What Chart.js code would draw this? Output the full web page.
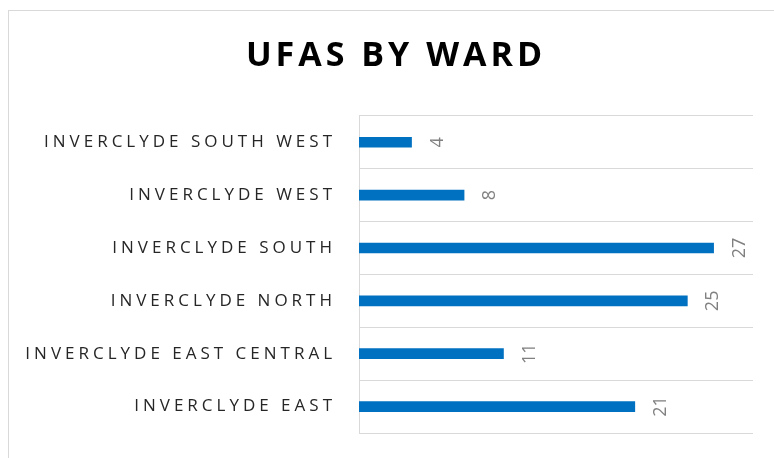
<!DOCTYPE html>
<html>
<head>
<meta charset="utf-8">
<script src="https://cdn.jsdelivr.net/npm/chart.js@4"></script>
<style>
  html, body { margin: 0; padding: 0; background: #fff; overflow: hidden; }
  .frame { position: absolute; left: 8px; top: 10px; width: 820px; height: 520px; border: 1.5px solid #d9d9d9; }
  .chart-container { position: absolute; left: 0; top: 0; width: 774px; height: 458px; }
</style>
</head>
<body>
<div class="frame"></div>
<div class="chart-container"><canvas id="wardChart"></canvas></div>
<script>
const wards = [
  'INVERCLYDE SOUTH WEST',
  'INVERCLYDE WEST',
  'INVERCLYDE SOUTH',
  'INVERCLYDE NORTH',
  'INVERCLYDE EAST CENTRAL',
  'INVERCLYDE EAST'
];
const ufasCounts = [4, 8, 27, 25, 11, 21];
const xMin = 0;
const xMax = 30;

// canvas letter spacing (Chart.js resets ctx state on resize, so set it before layout and draw)
const spacing = {
  id: 'spacing',
  beforeLayout(chart) { chart.ctx.letterSpacing = '4px'; },
  beforeDraw(chart) { chart.ctx.letterSpacing = '4px'; },
  // the title sits centred over the frame, not the canvas
  afterLayout(chart) {
    if (chart.titleBlock) chart.titleBlock.left = 39;
  }
};

const barLabels = {
  id: 'barLabels',
  afterDatasetsDraw(chart) {
    const ctx = chart.ctx;
    const meta = chart.getDatasetMeta(0);
    meta.data.forEach((bar, i) => {
      ctx.save();
      ctx.letterSpacing = '0px';
      ctx.font = '18px "Open Sans"';
      ctx.fillStyle = '#808080';
      ctx.textAlign = 'center';
      ctx.textBaseline = 'middle';
      ctx.translate(bar.x + 26, bar.y);
      ctx.rotate(-Math.PI / 2);
      ctx.fillText(String(chart.data.datasets[0].data[i]), 0, 0);
      ctx.restore();
    });
  }
};

const ctx = document.getElementById('wardChart').getContext('2d');
new Chart(ctx, {
  type: 'bar',
  data: {
    labels: wards,
    datasets: [{
      data: ufasCounts,
      backgroundColor: '#0070c0',
      barThickness: 10
    }]
  },
  options: {
    indexAxis: 'y',
    responsive: true,
    maintainAspectRatio: false,
    animation: false,
    events: [],
    layout: { padding: { top: 0, right: 21, bottom: 25, left: 0 } },
    plugins: {
      legend: { display: false },
      tooltip: { enabled: false },
      title: {
        display: true,
        text: 'UFAS BY WARD',
        color: '#000',
        font: { family: '"Open Sans"', size: 34, weight: 'bold', lineHeight: 1.2 },
        padding: { top: 36, bottom: 39 }
      }
    },
    scales: {
      x: {
        display: false,
        min: xMin,
        max: xMax
      },
      y: {
        afterFit(scale) {
          scale.width = 359;
          scale.paddingTop = 0;
          scale.paddingBottom = 0;
        },
        grid: { color: '#d9d9d9', drawTicks: false, offset: true },
        border: { color: '#d9d9d9' },
        ticks: {
          color: '#262626',
          padding: 23,
          font: { family: '"Open Sans"', size: 17 }
        }
      }
    }
  },
  plugins: [spacing, barLabels]
});
</script>
</body>
</html>
